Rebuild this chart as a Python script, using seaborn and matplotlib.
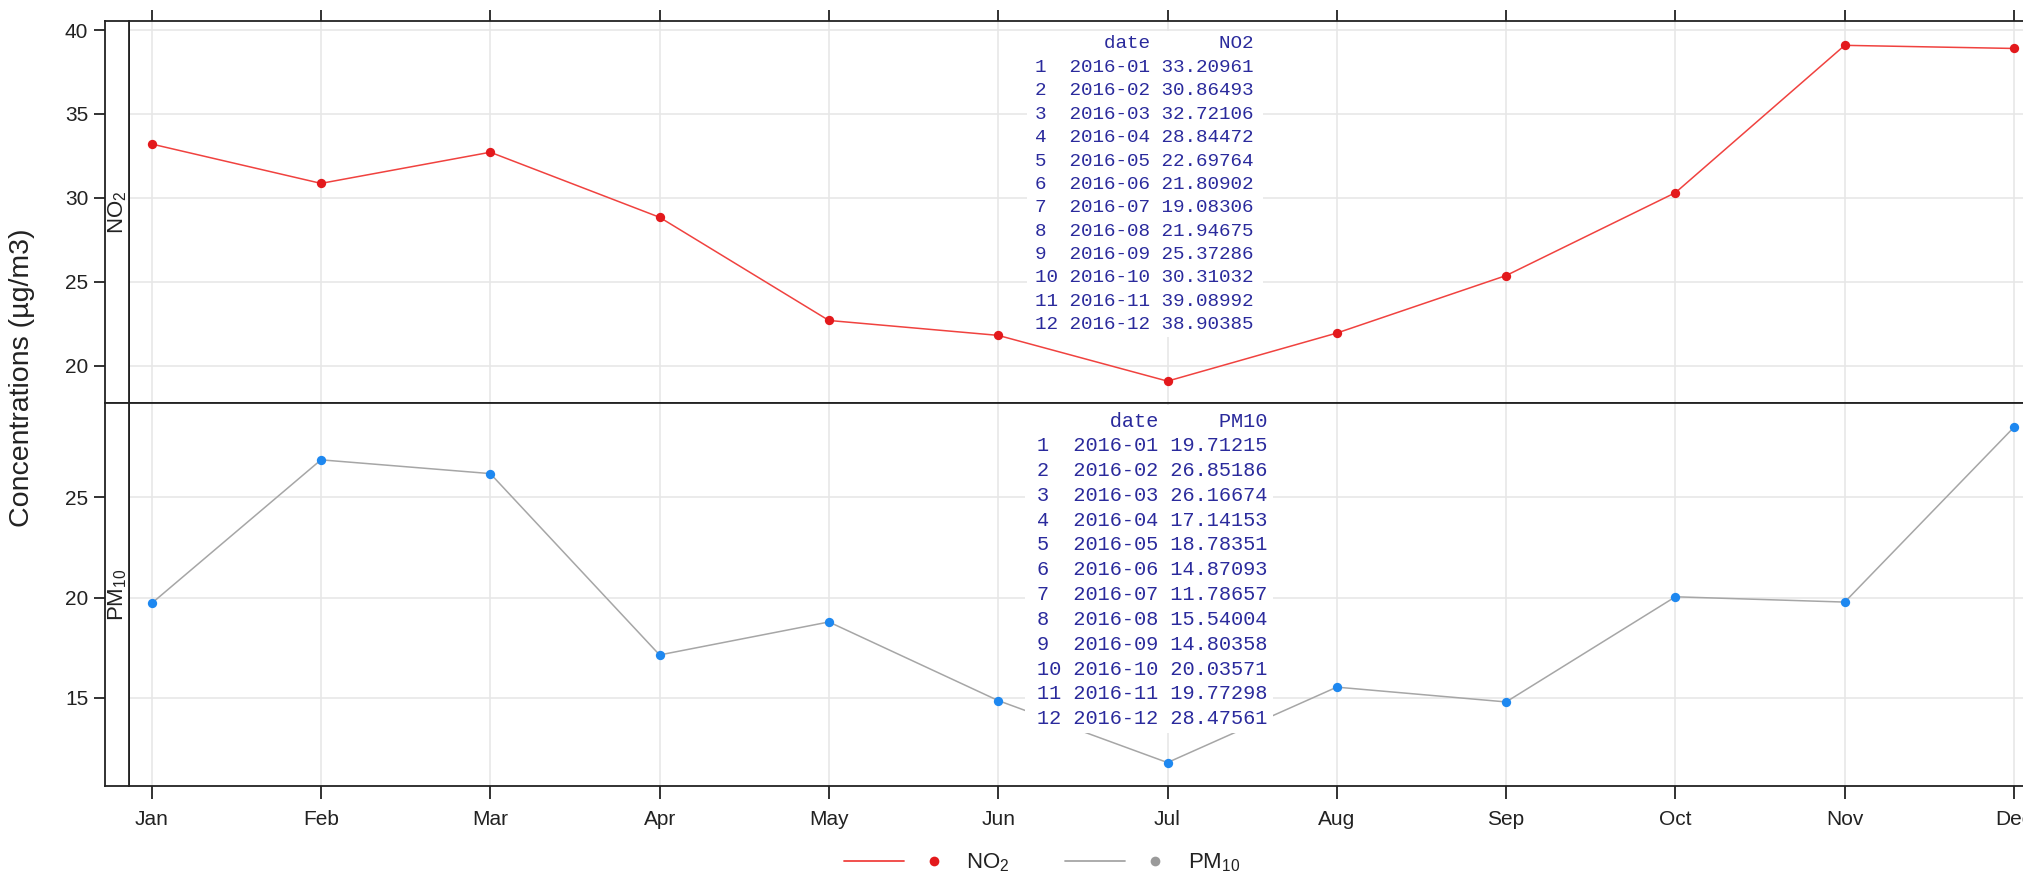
import matplotlib
matplotlib.use("Agg")
import matplotlib.pyplot as plt
from matplotlib.lines import Line2D
from matplotlib.patches import Rectangle
from matplotlib.legend_handler import HandlerTuple
import seaborn as sns
import numpy as np
import pandas as pd

# ---------------- data ----------------
months = ["Jan", "Feb", "Mar", "Apr", "May", "Jun", "Jul", "Aug", "Sep", "Oct", "Nov", "Dec"]
dates = ["2016-01", "2016-02", "2016-03", "2016-04", "2016-05", "2016-06",
         "2016-07", "2016-08", "2016-09", "2016-10", "2016-11", "2016-12"]
no2 = [33.20961, 30.86493, 32.72106, 28.84472, 22.69764, 21.80902,
       19.08306, 21.94675, 25.37286, 30.31032, 39.08992, 38.90385]
pm10 = [19.71215, 26.85186, 26.16674, 17.14153, 18.78351, 14.87093,
        11.78657, 15.54004, 14.80358, 20.03571, 19.77298, 28.47561]
no2_ticks = [20, 25, 30, 35, 40]
pm10_ticks = [15, 20, 25]

df = pd.DataFrame({"m": np.arange(len(months)), "date": dates, "NO2": no2, "PM10": pm10})

# ---------------- style ----------------
sns.set_theme(style="white")
plt.rcParams["font.family"] = ["Liberation Sans", "DejaVu Sans"]
plt.rcParams["mathtext.default"] = "regular"

W, H = 2024, 880
fig = plt.figure(figsize=(W / 100, H / 100), dpi=100)

def fx(px):
    return px / W

def fy(py):
    return 1 - py / H

x_left, strip_left = 129, 105
jan_px, step_px = 151.7, 169.3
xlo = (x_left - jan_px) / step_px
x_right_px = 2060
xhi = (x_right_px - jan_px) / step_px

panels = [
    dict(col="NO2", top=21, bot=403, ylim=(17.78, 40.54), ticks=no2_ticks,
         line="#f0423f", pt="#e3191c", lab="NO$_2$"),
    dict(col="PM10", top=403, bot=786, ylim=(10.62, 29.68), ticks=pm10_ticks,
         line="#a6a6a6", pt="#1e88f0", lab="PM$_{10}$"),
]

GRID = "#e6e6e6"
FRAME = "#222222"
TXT = "#222222"
TICK_FS = 15
for i, p in enumerate(panels):
    ax = fig.add_axes([fx(x_left), fy(p["bot"]), fx(x_right_px - x_left), (p["bot"] - p["top"]) / H])
    sax = fig.add_axes([fx(strip_left), fy(p["bot"]), fx(x_left - strip_left), (p["bot"] - p["top"]) / H])
    for a in (ax, sax):
        a.set_ylim(*p["ylim"])
        for s in a.spines.values():
            s.set_color(FRAME)
            s.set_linewidth(1.3)
    ax.set_xlim(xlo, xhi)
    ax.set_xticks(df["m"])
    ax.set_yticks(p["ticks"])
    ax.grid(True, color=GRID, linewidth=1.1)
    ax.set_axisbelow(True)
    ax.tick_params(axis="y", left=False, labelleft=False)
    if i == 0:
        ax.tick_params(axis="x", bottom=False, labelbottom=False, top=True, labeltop=False,
                       direction="out", length=8, width=1.3, color=FRAME)
    else:
        ax.set_xticklabels(months)
        ax.tick_params(axis="x", bottom=True, labelbottom=True, top=False,
                       direction="out", length=9, width=1.3, color=FRAME,
                       labelsize=TICK_FS, labelcolor=TXT, pad=8)
    sax.set_xticks([])
    sax.set_yticks(p["ticks"])
    sax.tick_params(axis="y", left=True, direction="out", length=8, width=1.3, color=FRAME,
                    labelsize=TICK_FS, labelcolor=TXT, pad=4)
    sax.text(0.55, 0.5, p["lab"], rotation=90, ha="center", va="center",
             transform=sax.transAxes, fontsize=16, color=TXT)
    sax.set_xlabel("")
    sax.set_ylabel("")

    sns.lineplot(data=df, x="m", y=p["col"], ax=ax, color=p["line"], linewidth=1.1,
                 legend=False, zorder=3)
    sns.scatterplot(data=df, x="m", y=p["col"], ax=ax, color=p["pt"], s=45,
                    marker="o", linewidth=0, legend=False, zorder=4)
    ax.set_xlabel("")
    ax.set_ylabel("")

# ---------------- data tables (printed data frames) ----------------
TBL = "#2a2a9c"
tables = [
    dict(col="NO2", vals=no2, box=(1027, 31, 1263, 337), y0=44, dy=23.4, xr=1254, fs=13.9),
    dict(col="PM10", vals=pm10, box=(1025, 405, 1273, 733), y0=421, dy=24.8, xr=1267, fs=14.6),
]
for t in tables:
    x0, y0b, x1, y1b = t["box"]
    fig.add_artist(Rectangle((fx(x0), fy(y1b)), fx(x1 - x0), (y1b - y0b) / H,
                             transform=fig.transFigure, facecolor="white",
                             edgecolor="none", zorder=5))
    lines = [f"{'':2} {'date':>7} {t['col']:>8}"]
    for k, (d, v) in enumerate(zip(dates, t["vals"])):
        lines.append(f"{k + 1:<2} {d} {v:.5f}")
    for k, s in enumerate(lines):
        fig.text(fx(t["xr"]), fy(t["y0"] + k * t["dy"]), s, ha="right", va="center",
                 family=["Liberation Mono", "DejaVu Sans Mono"], fontsize=t["fs"],
                 color=TBL, zorder=6)

# ---------------- y label ----------------
fig.text(fx(22), fy(378), "Concentrations (µg/m3)", rotation=90, ha="center", va="center",
         fontsize=20.5, color=TXT)

# ---------------- legend ----------------
LEG_FS = 16
h1 = (Line2D([], [], color="#f0423f", lw=1.3), Line2D([], [], color="#e3191c", marker="o",
      ls="none", markersize=7, markeredgewidth=0))
h2 = (Line2D([], [], color="#a6a6a6", lw=1.3), Line2D([], [], color="#9a9a9a", marker="o",
      ls="none", markersize=7, markeredgewidth=0))
fig.legend([h1, h2], ["NO$_2$", "PM$_{10}$"], handler_map={tuple: HandlerTuple(ndivide=2, pad=0)},
           loc="center", bbox_to_anchor=(fx(1042), fy(863)), ncol=2, frameon=False,
           fontsize=LEG_FS, handlelength=5.4, handletextpad=0.1, columnspacing=2.5,
           labelcolor=TXT, borderaxespad=0, borderpad=0)

fig.savefig("out.png", dpi=100)
